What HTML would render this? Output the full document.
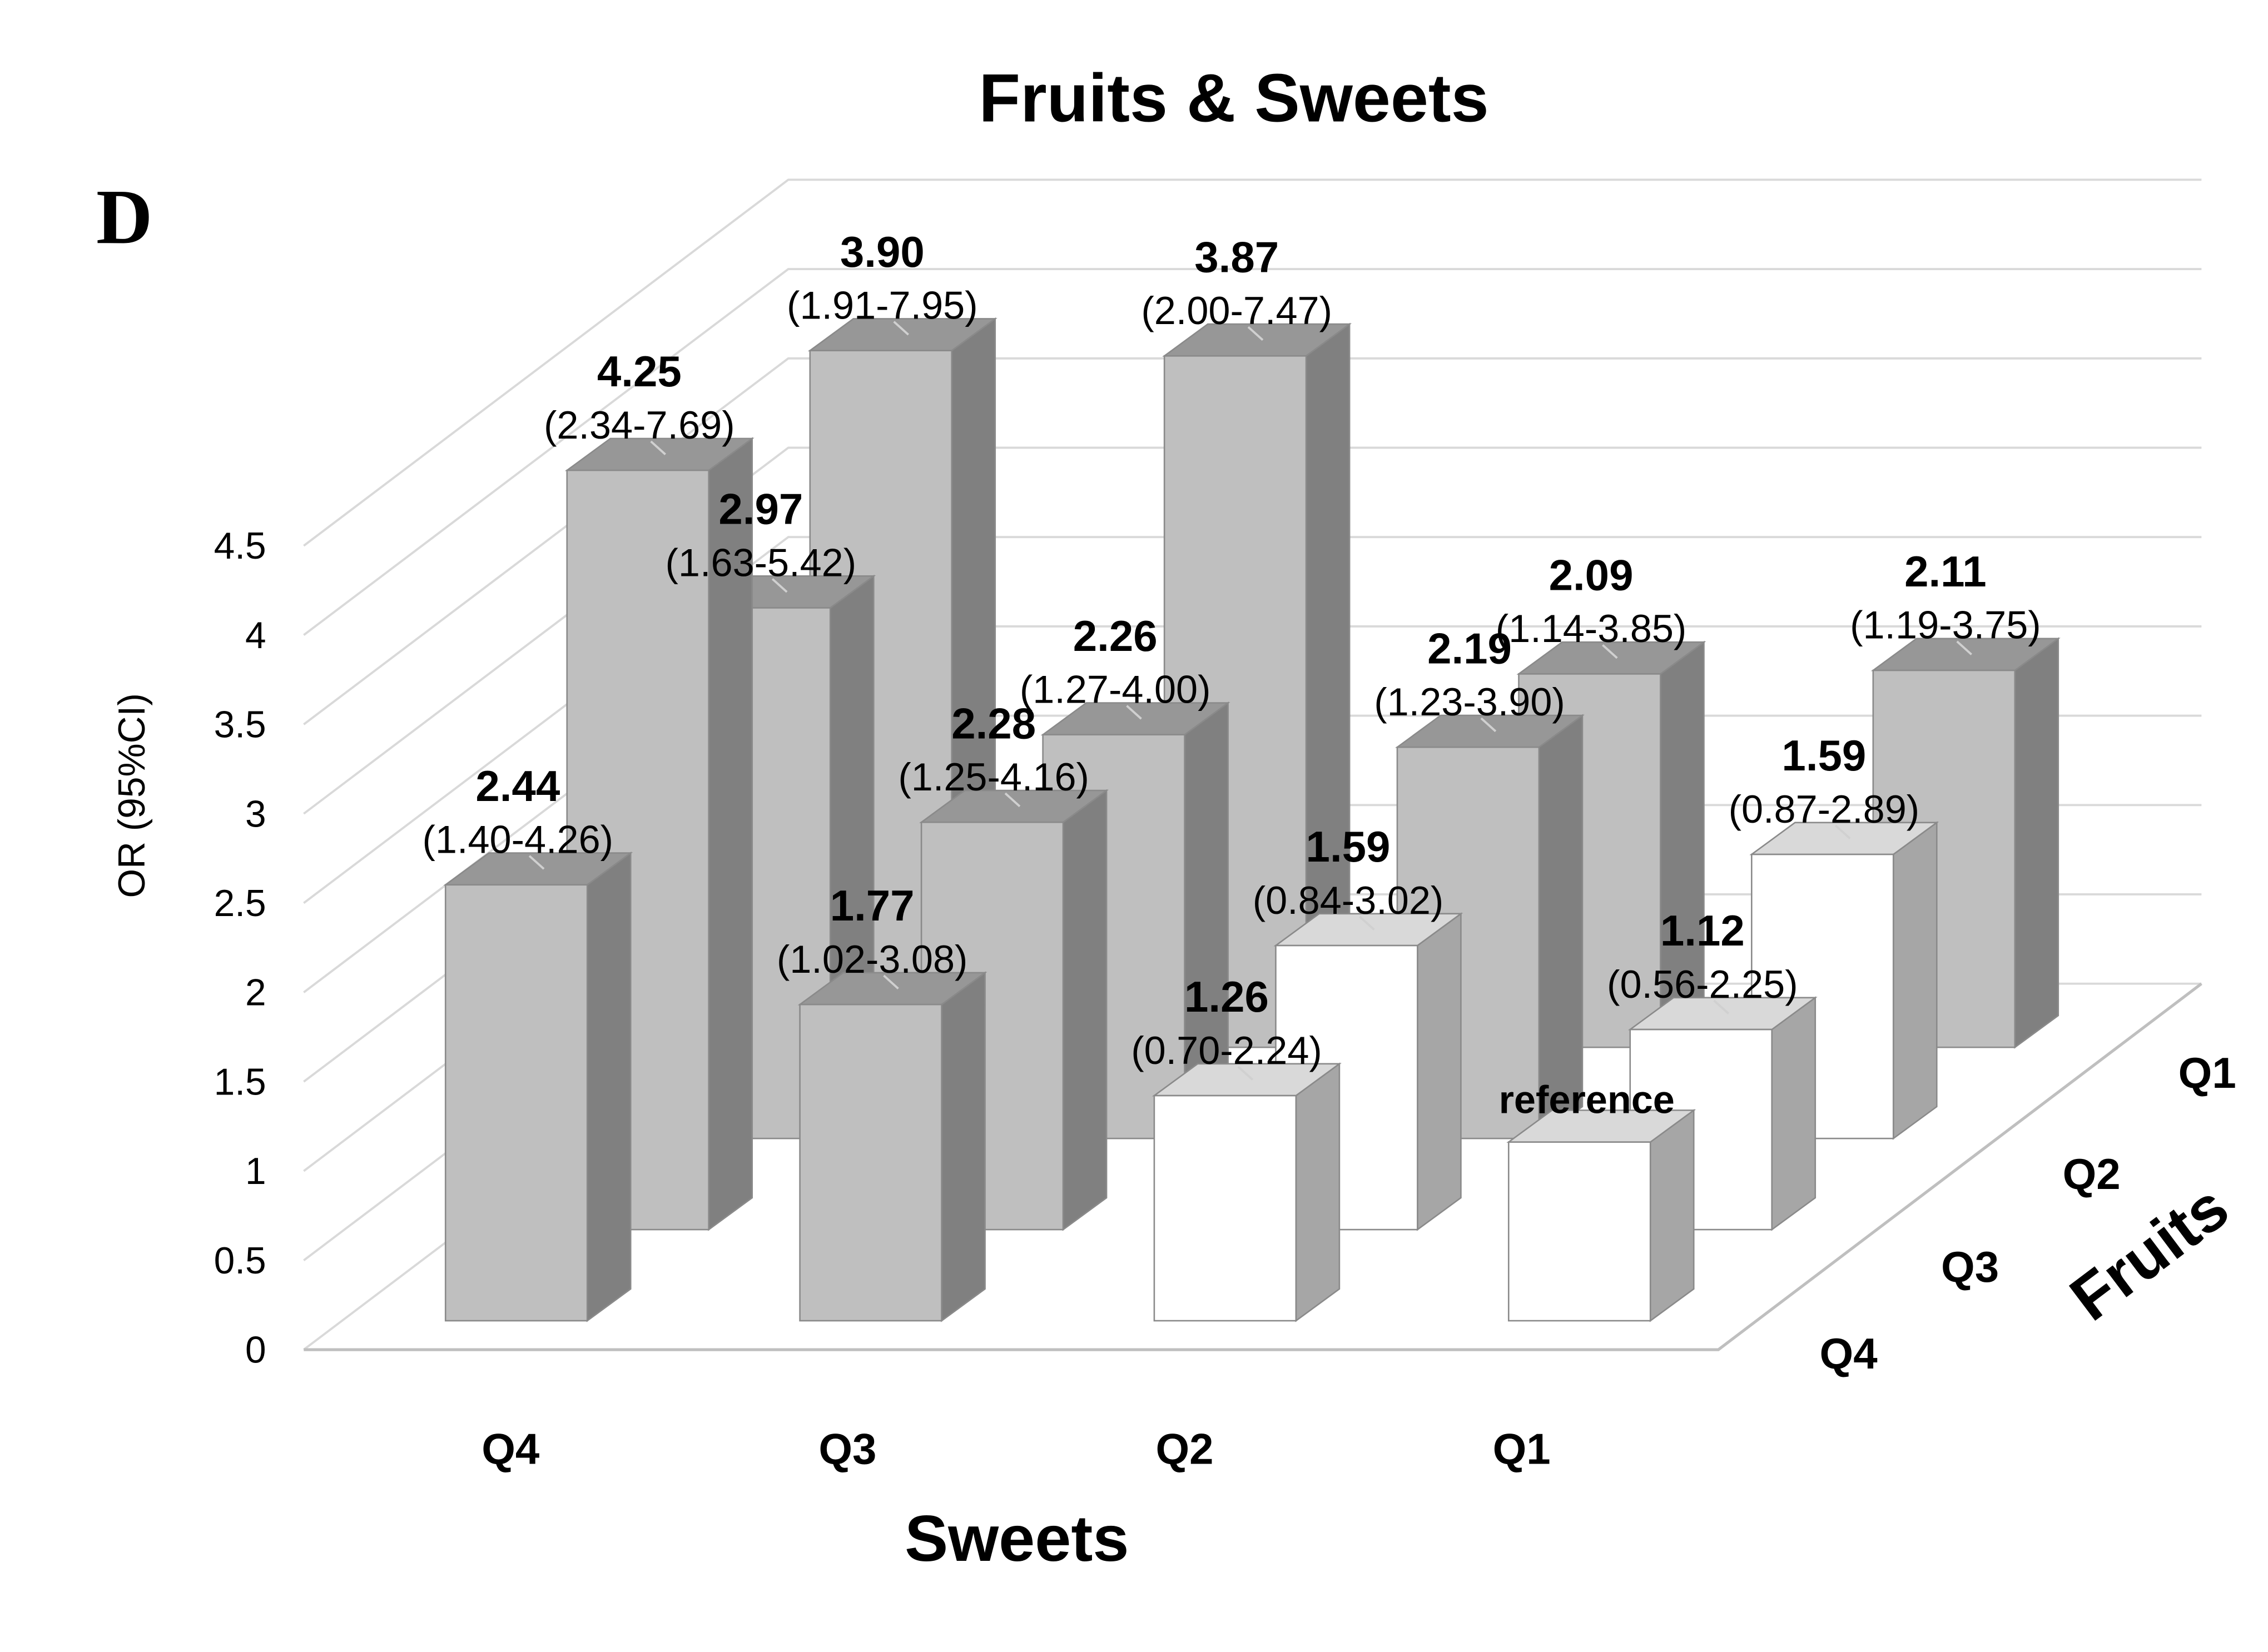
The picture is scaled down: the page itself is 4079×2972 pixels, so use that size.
<!DOCTYPE html>
<html><head><meta charset="utf-8"><style>html,body{margin:0;padding:0;background:#fff}svg{display:block}</style></head>
<body>
<svg id="chart" xmlns="http://www.w3.org/2000/svg" width="4079" height="2972" viewBox="0 0 1568 1142" preserveAspectRatio="none" font-family="Liberation Sans, Arial, sans-serif">
<rect width="1568" height="1142" fill="#fff"/>
<g id="grid"></g>
<g id="floor"></g>
<g id="bars"></g>
<g id="labels"></g>
<text x="853" y="84" text-anchor="middle" font-size="47" font-weight="bold">Fruits &amp; Sweets</text>
<text x="86" y="168" text-anchor="middle" font-size="54" font-weight="bold" font-family="Liberation Serif, serif">D</text>
<text transform="translate(100,550) rotate(-90)" text-anchor="middle" font-size="26">OR (95%CI)</text>
<text x="703" y="1079" text-anchor="middle" font-size="45" font-weight="bold">Sweets</text>
<text transform="translate(1495,878) rotate(-37)" text-anchor="middle" font-size="44" font-weight="bold">Fruits</text>
</svg>
<script>
const sweetsCats = ['Q4','Q3','Q2','Q1'];
const fruitsCats = ['Q4','Q3','Q2','Q1'];
const yTicks = [0,0.5,1,1.5,2,2.5,3,3.5,4,4.5];
const rowQ4 = [2.44,1.77,1.26,1.00];
const rowQ3 = [4.25,2.28,1.59,1.12];
const rowQ2 = [2.97,2.26,2.19,1.59];
const rowQ1 = [3.90,3.87,2.09,2.11];
const ciQ4 = ['(1.40-4.26)','(1.02-3.08)','(0.70-2.24)',''];
const ciQ3 = ['(2.34-7.69)','(1.25-4.16)','(0.84-3.02)','(0.56-2.25)'];
const ciQ2 = ['(1.63-5.42)','(1.27-4.00)','(1.23-3.90)','(0.87-2.89)'];
const ciQ1 = ['(1.91-7.95)','(2.00-7.47)','(1.14-3.85)','(1.19-3.75)'];
const sigQ4 = [true,true,false,false];
const sigQ3 = [true,true,false,false];
const sigQ2 = [true,true,true,false];
const sigQ1 = [true,true,true,true];
const lblQ4 = ['2.44','1.77','1.26','reference'];

const NS='http://www.w3.org/2000/svg';
const PX=123.5, rowDX=84, rowDY=-63, colDX=245, W=98, DX=30, DY=-22;
const baseX=308, baseY=913;
function yScale(v){return v*PX;}
function el(tag,attrs,parent){const e=document.createElementNS(NS,tag);for(const k in attrs)e.setAttribute(k,attrs[k]);parent.appendChild(e);return e;}
const grid=document.getElementById('grid'),floor=document.getElementById('floor'),bars=document.getElementById('bars'),labels=document.getElementById('labels'),svg=document.getElementById('chart');

yTicks.forEach(t=>{
  const y=933-yScale(t);
  const g=el('polyline',{points:`210,${y} 545,${y-253} 1522,${y-253}`,fill:'none',stroke:'#d9d9d9','stroke-width':1.5},grid);
  
  
  const tx=el('text',{x:184,y:y+9,'text-anchor':'end','font-size':26},svg);
  tx.textContent=String(t);
  
  
});
const fl=el('polyline',{points:'210,933 1188,933 1522,680',fill:'none',stroke:'#bfbfbf','stroke-width':2},floor);



sweetsCats.forEach((c,j)=>{
  const t=el('text',{x:353+j*233,y:1012,'text-anchor':'middle','font-size':30,'font-weight':'bold'},svg);
  t.textContent=c;
  
  
});
const fPos=[[1278,946],[1362,886],[1446,822],[1526,752]];
fruitsCats.forEach((c,i)=>{
  const t=el('text',{x:fPos[i][0],y:fPos[i][1],'text-anchor':'middle','font-size':30,'font-weight':'bold'},svg);
  t.textContent=c;
  
  
});

const rows=[[rowQ1,ciQ1,sigQ1,null],[rowQ2,ciQ2,sigQ2,null],[rowQ3,ciQ3,sigQ3,null],[rowQ4,ciQ4,sigQ4,lblQ4]];
rows.forEach((r,k)=>{
  const i=3-k;
  const [vals,cis,sig,lbl]=r;
  vals.forEach((v,j)=>{
    const x=baseX+i*rowDX+j*colDX, yb=baseY+i*rowDY, h=yScale(v), yt=yb-h;
    const front=sig[j]?'#bfbfbf':'#ffffff', side=sig[j]?'#808080':'#a6a6a6', top=sig[j]?'#979797':'#d9d9d9';
    const g=el('g',{},bars);
    
    
    el('polygon',{points:`${x+W},${yb} ${x+W+DX},${yb+DY} ${x+W+DX},${yt+DY} ${x+W},${yt}`,fill:side,stroke:'#8a8a8a','stroke-width':1},g);
    el('polygon',{points:`${x},${yt} ${x+DX},${yt+DY} ${x+W+DX},${yt+DY} ${x+W},${yt}`,fill:top,stroke:'#8a8a8a','stroke-width':1},g);
    el('rect',{x:x,y:yt,width:W,height:h,fill:front,stroke:'#8a8a8a','stroke-width':1},g);
    const cx=x+W/2+DX/2-14;
    const lab=lbl?lbl[j]:v.toFixed(2);
    if(cis[j]){
      const ln=el('line',{x1:cx+18,y1:yt+DY/2,x2:cx+8,y2:yt-20,stroke:'#d0d0d0','stroke-width':1.5},labels);
      
      
      const t1=el('text',{x:cx,y:yt-58,'text-anchor':'middle','font-size':30,'font-weight':'bold'},labels);
      t1.textContent=lab;
      
      
      const t2=el('text',{x:cx,y:yt-22,'text-anchor':'middle','font-size':27},labels);
      t2.textContent=cis[j];
      
      
    } else {
      const t1=el('text',{x:cx+4,y:yt-20,'text-anchor':'middle','font-size':27,'font-weight':'bold'},labels);
      t1.textContent=lab;
      
      
    }
  });
});
</script>
</body></html>
